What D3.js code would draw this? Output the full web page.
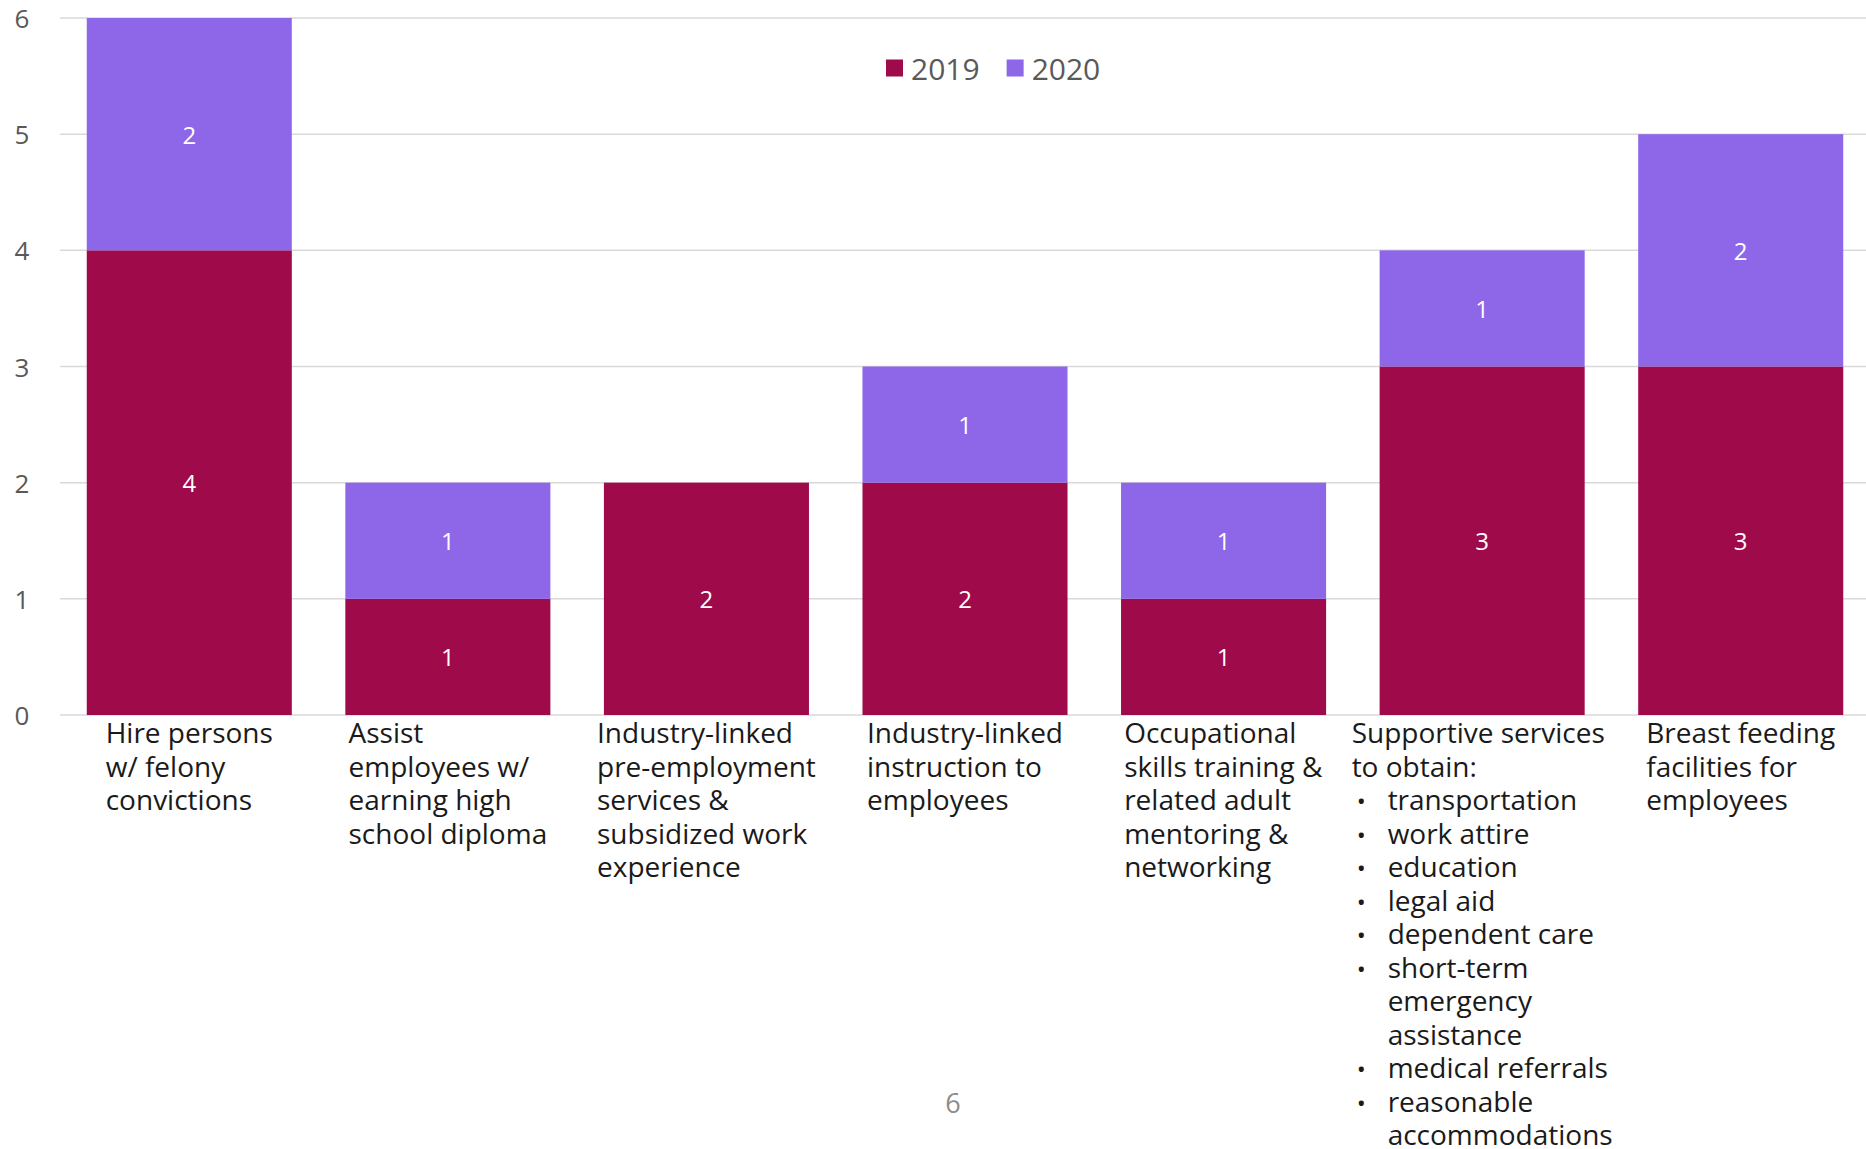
<!DOCTYPE html>
<html>
<head>
<meta charset="utf-8">
<script src="https://cdn.jsdelivr.net/npm/d3@7"></script>
<style>
  body { margin: 0; background: #ffffff; }
  svg { display: block; font-family: "Open Sans", "Liberation Sans", sans-serif; }
</style>
</head>
<body>
<div id="chart"></div>
<script>
// Chart data
const categories = ["hire", "assist", "preemp", "instruction", "occupational", "supportive", "breastfeeding"];
const values2019 = [4, 1, 2, 2, 1, 3, 3];
const values2020 = [2, 1, 0, 1, 1, 1, 2];
const seriesNames = ["2019", "2020"];
const yTicks = [0, 1, 2, 3, 4, 5, 6];

// Category label lines ("•" = bullet item, "\t" = continuation of a bullet item)
const categoryLines = [
    ["Hire persons", "w/ felony", "convictions"],
    ["Assist", "employees w/", "earning high", "school diploma"],
    ["Industry-linked", "pre-employment", "services &", "subsidized work", "experience"],
    ["Industry-linked", "instruction to", "employees"],
    ["Occupational", "skills training &", "related adult", "mentoring &", "networking"],
    ["Supportive services", "to obtain:", "•transportation", "•work attire", "•education", "•legal aid",
     "•dependent care", "•short-term", "\temergency", "\tassistance", "•medical referrals",
     "•reasonable", "\taccommodations"],
    ["Breast feeding", "facilities for", "employees"]
];
const pageNumber = "6";

const width = 1866;
const height = 1149;
const plot = { left: 60, right: 1870, top: 18, bottom: 715 };
const colors = { "2019": "#9e0a4a", "2020": "#8e67e8" };

const svg = d3.select("#chart").append("svg")
    .attr("width", width)
    .attr("height", height);

svg.append("rect").attr("width", width).attr("height", height).attr("fill", "#ffffff");

const x = d3.scaleBand()
    .domain(categories)
    .range([plot.left, plot.right])
    .paddingInner(0.207)
    .paddingOuter(0.1035);

const y = d3.scaleLinear()
    .domain([0, 6])
    .range([plot.bottom, plot.top]);

// gridlines
svg.append("g")
    .selectAll("line")
    .data(yTicks)
    .enter().append("line")
    .attr("x1", plot.left)
    .attr("x2", width)
    .attr("y1", d => y(d))
    .attr("y2", d => y(d))
    .attr("stroke", "#d9d9d9")
    .attr("stroke-width", 1.5);

// y tick labels
svg.append("g")
    .selectAll("text")
    .data(yTicks)
    .enter().append("text")
    .attr("x", 22)
    .attr("y", d => y(d))
    .attr("text-anchor", "middle")
    .attr("dominant-baseline", "central")
    .style("font-size", "26px")
    .style("fill", "#595959")
    .text(d => d);

// stacked bars
const rows = categories.map((c, i) => ({ cat: c, "2019": values2019[i], "2020": values2020[i] }));
const stacked = d3.stack().keys(seriesNames)(rows);

const layers = svg.append("g")
    .selectAll("g")
    .data(stacked)
    .enter().append("g")
    .attr("fill", d => colors[d.key]);

layers.selectAll("rect")
    .data(d => d)
    .enter().append("rect")
    .attr("x", d => x(d.data.cat))
    .attr("y", d => y(d[1]))
    .attr("width", x.bandwidth())
    .attr("height", d => y(d[0]) - y(d[1]));

// data labels
layers.selectAll("text")
    .data(d => d.filter(s => s[1] - s[0] > 0))
    .enter().append("text")
    .attr("x", d => x(d.data.cat) + x.bandwidth() / 2)
    .attr("y", d => y((d[0] + d[1]) / 2))
    .attr("text-anchor", "middle")
    .attr("dominant-baseline", "central")
    .style("font-size", "24px")
    .style("fill", "#ffffff")
    .text(d => d[1] - d[0]);

// legend
const legend = svg.append("g").attr("transform", "translate(886, 68)");
let lx = 0;
seriesNames.forEach(function (name) {
    const item = legend.append("g").attr("transform", `translate(${lx}, 0)`);
    item.append("rect")
        .attr("x", 0)
        .attr("y", -8.5)
        .attr("width", 17)
        .attr("height", 17)
        .attr("fill", colors[name]);
    const t = item.append("text")
        .attr("x", 25)
        .attr("y", 0)
        .attr("dominant-baseline", "central")
        .style("font-size", "30px")
        .style("fill", "#595959")
        .text(name);
    lx += 25 + t.node().getComputedTextLength() + 27;
});

// category labels
const lineHeight = 33.5;
const indent = 36;
categoryLines.forEach(function (lines, i) {
    const g = svg.append("g");
    lines.forEach(function (line, j) {
        const isBullet = line.startsWith("•");
        const isCont = line.startsWith("\t");
        const txt = (isBullet || isCont) ? line.slice(1) : line;
        const ty = 743 + j * lineHeight;
        if (isBullet) {
            g.append("text")
                .attr("x", 5)
                .attr("y", ty)
                .style("font-size", "24px")
                .style("fill", "#1a1a1a")
                .text("•");
        }
        g.append("text")
            .attr("x", (isBullet || isCont) ? indent : 0)
            .attr("y", ty)
            .style("font-size", "28px")
            .style("fill", "#1a1a1a")
            .text(txt);
    });
    // center the left-aligned text block on the category band
    const bw = g.node().getBBox().width;
    const cx = x(categories[i]) + x.bandwidth() / 2;
    g.attr("transform", `translate(${cx - bw / 2}, 0)`);
});

// page number
svg.append("text")
    .attr("x", 953)
    .attr("y", 1113)
    .attr("text-anchor", "middle")
    .style("font-size", "27px")
    .style("fill", "#8c8c8c")
    .text(pageNumber);
</script>
</body>
</html>
